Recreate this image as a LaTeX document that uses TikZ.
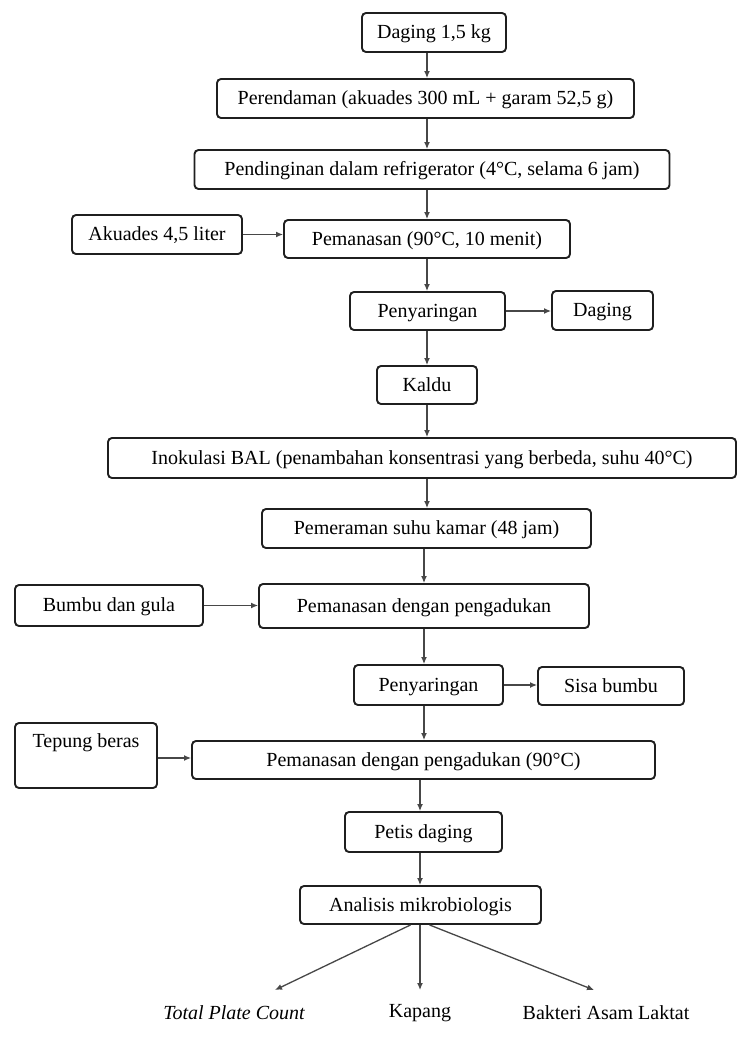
\documentclass[tikz,border=0pt]{standalone}
\usepackage{fontspec}
\setmainfont{Liberation Serif}
\usetikzlibrary{arrows.meta}
\begin{document}
\begin{tikzpicture}[x=1pt,y=-1pt,
  boxn/.style={draw=black!88, line width=1.9pt, rounded corners=4pt, inner sep=0pt,
    align=center, font=\fontsize{20}{23}\selectfont, text=black,
    text height=15pt, text depth=3pt},
  txt/.style={inner sep=0pt, font=\fontsize{20}{23}\selectfont, text=black},
  arr/.style={-{Latex[length=7pt,width=6pt]}, line width=1.3pt, draw=black!72}]
\fill[white] (0,0) rectangle (739,1041);
\useasboundingbox (0,0) rectangle (739,1041);
% spine references
\coordinate (sa) at (427,0);
\coordinate (sb) at (424,0);
\coordinate (sc) at (420,0);
% nodes
\node[boxn, minimum width=144pt, minimum height=39pt] (n1) at (434,32.5) {Daging 1,5 kg};
\node[boxn, minimum width=417pt, minimum height=39pt] (n2) at (425.5,98.5) {Perendaman (akuades 300 mL + garam 52,5 g)};
\node[boxn, minimum width=475pt, minimum height=39pt] (n3) at (432,169.5) {Pendinginan dalam refrigerator (4°C, selama 6 jam)};
\node[boxn, minimum width=170pt, minimum height=39pt] (ak) at (157,234.5) {Akuades 4,5 liter};
\node[boxn, minimum width=286pt, minimum height=38pt] (n4) at (427,239) {Pemanasan (90°C, 10 menit)};
\node[boxn, minimum width=155pt, minimum height=38pt] (n5) at (427.5,311) {Penyaringan};
\node[boxn, minimum width=101pt, minimum height=39pt] (dg) at (602.5,310.5) {Daging};
\node[boxn, minimum width=100pt, minimum height=38pt] (n6) at (427,385) {Kaldu};
\node[boxn, minimum width=628pt, minimum height=40pt] (n7) at (422,458) {Inokulasi BAL (penambahan konsentrasi yang berbeda, suhu 40°C)};
\node[boxn, minimum width=329pt, minimum height=39pt] (n8) at (426.5,528.5) {Pemeraman suhu kamar (48 jam)};
\node[boxn, minimum width=188pt, minimum height=41pt] (bg) at (109,605.5) {Bumbu dan gula};
\node[boxn, minimum width=330pt, minimum height=44pt] (n9) at (424,606) {Pemanasan dengan pengadukan};
\node[boxn, minimum width=149pt, minimum height=40pt] (n10) at (428.5,685) {Penyaringan};
\node[boxn, minimum width=146pt, minimum height=38pt] (sbb) at (611,686) {Sisa bumbu};
\node[boxn, minimum width=142pt, minimum height=65pt] (tp) at (86,755.5) {};
\node[txt] (tpl) at (86,743) {Tepung beras};
\node[boxn, minimum width=463pt, minimum height=38pt] (n11) at (423.5,760) {Pemanasan dengan pengadukan (90°C)};
\node[boxn, minimum width=157pt, minimum height=40pt] (n12) at (423.5,832) {Petis daging};
\node[boxn, minimum width=241pt, minimum height=38pt] (n13) at (420.5,905) {Analisis mikrobiologis};
\node[txt, font=\fontsize{20}{23}\selectfont\itshape] (l1) at (234,1013) {Total Plate Count};
\node[txt] (l2) at (420,1013) {Kapang};
\node[txt] (l3) at (606,1013) {Bakteri Asam Laktat};
\coordinate (e1) at (275,990);
\coordinate (e2) at (420,990);
\coordinate (e3) at (594,990);
% spine arrows
\draw[arr] (n1.south -| sa) -- (n2.north -| sa);
\draw[arr] (n2.south -| sa) -- (n3.north -| sa);
\draw[arr] (n3.south -| sa) -- (n4.north -| sa);
\draw[arr] (n4.south -| sa) -- (n5.north -| sa);
\draw[arr] (n5.south -| sa) -- (n6.north -| sa);
\draw[arr] (n6.south -| sa) -- (n7.north -| sa);
\draw[arr] (n7.south -| sa) -- (n8.north -| sa);
\draw[arr] (n8.south -| sb) -- (n9.north -| sb);
\draw[arr] (n9.south -| sb) -- (n10.north -| sb);
\draw[arr] (n10.south -| sb) -- (n11.north -| sb);
\draw[arr] (n11.south -| sc) -- (n12.north -| sc);
\draw[arr] (n12.south -| sc) -- (n13.north -| sc);
% side arrows
\draw[arr] (ak.east) -- (ak.east -| n4.west);
\draw[arr] (n5.east) -- (n5.east -| dg.west);
\draw[arr] (bg.east) -- (bg.east -| n9.west);
\draw[arr] (n10.east) -- (n10.east -| sbb.west);
\draw[arr] (tp.east |- 0,758) -- (n11.west |- 0,758);
% branches
\draw[arr] ([xshift=-10pt]n13.south) -- (e1);
\draw[arr] (n13.south -| e2) -- (e2);
\draw[arr] ([xshift=9pt]n13.south) -- (e3);
\end{tikzpicture}
\end{document}
